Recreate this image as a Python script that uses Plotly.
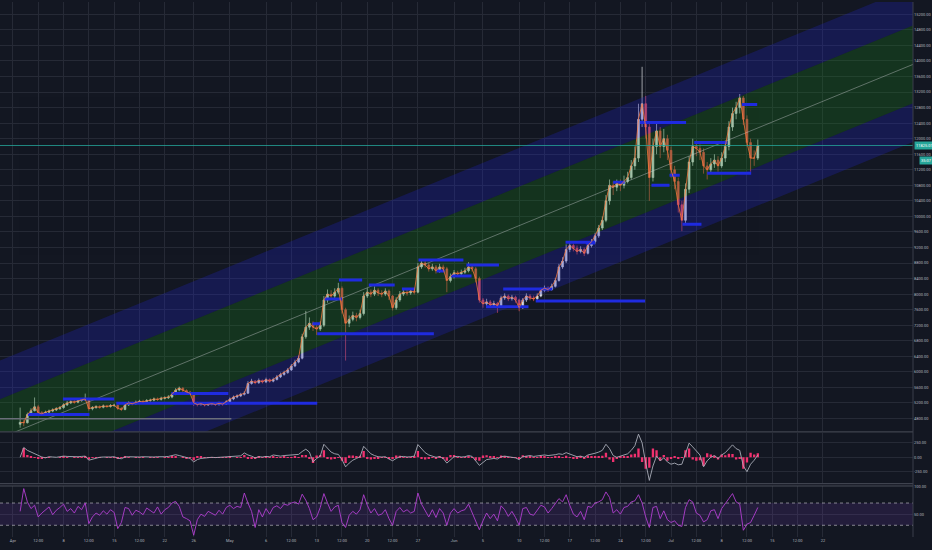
import pandas as pd
import plotly.graph_objects as go
from plotly.subplots import make_subplots

# ---------------- data ----------------
first_open = 4650
close = [4700, 4690, 4900, 5000, 5100, 4950, 4920, 4960, 4990, 5020,
         5050, 5080, 5150, 5200, 5230, 5220, 5260, 5280, 5300, 5050,
         5080, 5100, 5090, 5120, 5110, 5130, 5140, 5060, 5030, 5150,
         5200, 5180, 5220, 5240, 5230, 5260, 5270, 5300, 5290, 5320,
         5330, 5350, 5420, 5530, 5580, 5520, 5480, 5450, 5200, 5160,
         5180, 5150, 5170, 5180, 5160, 5190, 5170, 5230, 5300, 5350,
         5380, 5420, 5450, 5700, 5760, 5720, 5780, 5740, 5800, 5760,
         5800, 5870, 5930, 5980, 6050, 6150, 6250, 6350, 6900, 7150,
         7250, 7150, 7100, 7200, 7850, 8000, 7950, 8050, 8150, 7600,
         7250, 7350, 7450, 7400, 7500, 7950, 8050, 8000, 8100, 8030,
         8000, 8080, 7950, 7650, 7850, 8000, 8050, 8030, 8080, 8050,
         8700, 8800, 8750, 8650, 8700, 8600, 8700, 8650, 8350, 8450,
         8550, 8520, 8560, 8600, 8700, 8650, 8400, 7850, 7750, 7800,
         7720, 7760, 7700, 7900, 7950, 7880, 7920, 7850, 7650, 7850,
         7950, 7900, 7880, 7950, 8100, 8150, 8120, 8200, 8350, 8700,
         8850, 9150, 9250, 9180, 9100, 9150, 9050, 9250, 9350, 9500,
         9700, 9900, 10400, 10800, 10750, 10850, 10800, 10900, 11000, 11300,
         11500, 12500, 12900, 12300, 11000, 11800, 12200, 11800, 12000, 11700,
         11200, 10900, 10300, 9900, 10700, 11400, 11800, 11750, 11650, 11300,
         11200, 11350, 11450, 11300, 11500, 11800, 12300, 12650, 12800, 13050,
         12500, 11900, 11500, 11500, 11825]
high = [5080, 4760, 4950, 5060, 5340, 5150, 4990, 5000, 5030, 5060,
        5090, 5120, 5190, 5250, 5270, 5280, 5300, 5320, 5440, 5320,
        5120, 5140, 5140, 5160, 5150, 5170, 5180, 5160, 5090, 5190,
        5240, 5230, 5260, 5280, 5280, 5300, 5310, 5340, 5340, 5360,
        5370, 5400, 5460, 5580, 5620, 5600, 5550, 5510, 5470, 5230,
        5220, 5210, 5210, 5220, 5210, 5230, 5220, 5270, 5340, 5390,
        5420, 5460, 5500, 5760, 5820, 5790, 5830, 5800, 5850, 5830,
        5850, 5920, 5980, 6030, 6100, 6200, 6310, 6420, 6980, 7570,
        7400, 7300, 7220, 7300, 7950, 8120, 8100, 8150, 8290, 8200,
        7650, 7450, 7550, 7520, 7600, 8050, 8150, 8120, 8200, 8150,
        8100, 8150, 8120, 7980, 7920, 8080, 8120, 8110, 8150, 8130,
        8800, 8900, 8880, 8800, 8780, 8750, 8780, 8760, 8700, 8530,
        8620, 8600, 8630, 8680, 8820, 8770, 8700, 8450, 7900, 7880,
        7850, 7830, 7800, 7960, 8020, 7990, 7980, 7960, 7880, 7900,
        8020, 8000, 7960, 8020, 8160, 8220, 8200, 8270, 8420, 8780,
        8950, 9280, 9330, 9300, 9250, 9230, 9200, 9320, 9420, 9580,
        9780, 10000, 10550, 10950, 10900, 10950, 10950, 11050, 11150, 11450,
        11800, 12900, 13850, 13100, 12400, 12000, 12400, 12300, 12250, 12100,
        11800, 11300, 11000, 10400, 10850, 11550, 12000, 11950, 11850, 11750,
        11400, 11500, 11600, 11550, 11650, 11950, 12450, 12800, 12950, 13150,
        13100, 12600, 12000, 11700, 11980]
low = [4560, 4600, 4670, 4880, 4980, 4900, 4870, 4890, 4930, 4960,
       4990, 5020, 5050, 5120, 5170, 5180, 5190, 5230, 5250, 5000,
       5010, 5050, 5050, 5060, 5070, 5080, 5100, 5020, 4990, 5010,
       5120, 5140, 5150, 5190, 5200, 5200, 5230, 5240, 5250, 5260,
       5290, 5300, 5320, 5400, 5500, 5480, 5440, 5400, 5120, 5110,
       5130, 5110, 5120, 5140, 5120, 5130, 5130, 5150, 5200, 5270,
       5320, 5350, 5390, 5430, 5670, 5680, 5690, 5700, 5710, 5720,
       5730, 5780, 5840, 5900, 5950, 6020, 6120, 6220, 6320, 6850,
       7080, 7050, 6950, 7050, 7150, 7780, 7850, 7900, 8000, 7500,
       6290, 7150, 7300, 7300, 7350, 7450, 7900, 7920, 7950, 7950,
       7920, 7950, 7850, 7580, 7600, 7800, 7950, 7960, 7980, 7990,
       8020, 8650, 8680, 8580, 8600, 8530, 8550, 8580, 8050, 8300,
       8400, 8460, 8480, 8520, 8560, 8580, 8300, 7780, 7650, 7680,
       7650, 7660, 7520, 7660, 7850, 7820, 7830, 7780, 7560, 7620,
       7800, 7840, 7820, 7850, 7920, 8060, 8060, 8090, 8170, 8320,
       8650, 8800, 9080, 9100, 9020, 9050, 8980, 9020, 9200, 9300,
       9450, 9650, 9850, 10300, 10550, 10650, 10650, 10720, 10850, 10950,
       11200, 11400, 12300, 12000, 10400, 10900, 11600, 11500, 11650, 11450,
       11000, 10700, 10100, 9620, 9800, 10600, 11300, 11550, 11450, 11100,
       10950, 11100, 11250, 11150, 11250, 11400, 11700, 12200, 12500, 12650,
       12350, 11800, 11150, 11300, 11450]

# oscillator panel (gray line + pink histogram), same 12h steps
osc_line = [0, 170, 120, 90, 70, 30, 5, -10, 10, 5,
            0, 10, 20, 15, 10, 5, 10, 15, 20, -50,
            -30, -10, 0, 5, 0, 5, 10, -15, -25, 5,
            10, 5, 0, 5, 10, 5, 0, 5, 10, 5,
            10, 15, 30, 45, 30, 10, -10, -20, -80, -40,
            -20, -10, -5, 0, -5, 0, 5, 10, 20, 15,
            20, 25, 75, 40, 20, -10, 10, 5, 15, 10,
            40, 25, 20, 30, 35, 40, 50, 50, 100, 140,
            90, -80, -20, 20, 225, 150, 90, 60, 50, -40,
            -165, -100, -50, -20, 10, 190, 120, 60, 30, 10,
            5, 10, -30, -60, -20, 10, 15, 5, 10, 20,
            220, 150, 80, 40, 20, 0, 10, -20, -100, -40,
            10, 15, 5, 10, 30, 15, -60, -140, -90, -40,
            -30, -20, -30, 10, 20, 5, 0, -10, -40, 10,
            20, 30, 15, 20, 30, 40, 30, 35, 45, 60,
            50, 80, 60, 30, 10, 20, 0, 40, 50, 70,
            90, 120, 225, 150, 30, 0, 20, 40, 60, 120,
            200, 400, 250, -100, -400, -150, 20, -60, -10, -80,
            -120, -100, -130, -120, 50, 245, 180, 100, 40, -165,
            -60, 0, 30, -20, 40, 80, 150, 215, 150, 120,
            -150, -250, -120, -50, 40]
osc_hist = [0, 160, 40, 10, 5, -20, -15, -10, 5, 0,
            0, 5, 10, 5, 0, -5, 5, 5, 10, -40,
            -10, 5, 5, 0, -5, 5, 5, -15, -10, 15,
            5, 0, -5, 5, 5, 0, -5, 5, 5, 0,
            5, 5, 15, 15, 0, -10, -15, -10, -50, 20,
            10, 5, 5, 5, -5, 5, 5, 5, 10, 0,
            5, 5, 40, -15, -15, -20, 15, -5, 10, -5,
            20, -10, -5, 10, 5, 5, 10, 5, 40, 40,
            -20, -100, 30, 40, 120, -30, -40, -20, -5, -60,
            -100, 30, 30, 20, 25, 110, -30, -40, -20, -15,
            -5, 5, -30, -25, 30, 25, 5, -10, 5, 10,
            110, -30, -40, -30, -10, -15, 10, -20, -60, 40,
            40, 5, -5, 5, 15, -10, -50, -60, 30, 35,
            10, 10, -10, 30, 10, -10, -5, -10, -20, 35,
            10, 10, -10, 5, 10, 10, -5, 5, 10, 15,
            -5, 25, -10, -20, -15, 10, -20, 30, 10, 15,
            15, 25, 80, -40, -80, -25, 20, 20, 20, 50,
            60, 150, -80, -200, -180, 150, 120, -60, 40, -60,
            -30, 10, -25, 5, 120, 150, -40, -60, -50, -150,
            70, 50, 25, -40, 50, 35, 60, 55, -40, -20,
            -200, -90, 80, 50, 70]

# RSI panel
rsi = [55, 96, 72, 60, 66, 45, 52, 58, 63, 49,
       57, 62, 68, 55, 60, 52, 64, 58, 70, 33,
       45, 52, 48, 56, 50, 58, 53, 24, 35, 62,
       60, 48, 57, 54, 49, 61, 56, 52, 63, 50,
       58, 62, 70, 73, 64, 45, 42, 38, 12, 40,
       50, 46, 55, 52, 48, 57, 50, 62, 66, 60,
       64, 62, 88, 70, 55, 26, 58, 45, 60, 50,
       62, 65, 60, 68, 66, 70, 72, 68, 86, 75,
       60, 40, 45, 62, 87, 70, 55, 63, 66, 35,
       26, 48, 55, 50, 58, 85, 66, 52, 60, 48,
       50, 58, 42, 30, 55, 62, 54, 58, 52, 55,
       88, 68, 55, 45, 58, 44, 60, 52, 30, 52,
       60, 52, 56, 58, 68, 52, 35, 22, 38, 52,
       42, 50, 38, 65, 58, 46, 55, 44, 30, 60,
       62, 50, 48, 58, 66, 63, 52, 60, 68, 78,
       72, 85, 66, 50, 45, 55, 40, 64, 62, 70,
       72, 76, 90, 80, 52, 58, 50, 62, 64, 72,
       74, 85, 70, 45, 26, 62, 64, 42, 56, 40,
       35, 38, 30, 28, 62, 76, 72, 52, 48, 36,
       40, 56, 58, 42, 60, 70, 78, 87, 72, 68,
       21, 32, 35, 48, 62]

# regression channel (centre line at the two chart edges, sigma in price units)
chan_x = ["2019-03-30 05:12", "2019-08-03 11:00"]
chan_mid = [4293, 13912]
chan_sigma = 1000

# horizontal levels drawn on the chart
lvl_start = ["2019-04-07 22:00", "2019-04-03 02:00", "2019-04-15 07:00", "2019-04-22 22:00",
             "2019-05-16 02:00", "2019-05-20 05:00", "2019-05-24 19:00", "2019-05-14 02:00",
             "2019-05-12 10:00", "2019-05-13 02:00", "2019-05-27 02:00", "2019-06-02 17:00",
             "2019-05-29 14:00", "2019-05-31 14:00", "2019-06-07 19:00", "2019-06-12 07:00",
             "2019-06-05 10:00", "2019-06-16 10:00", "2019-06-26 17:00", "2019-06-28 07:00",
             "2019-06-30 19:00", "2019-07-02 14:00", "2019-07-04 05:00", "2019-07-06 00:00",
             "2019-07-10 19:00", "2019-06-19 05:00", "2019-06-23 00:00"]
lvl_end = ["2019-04-15 00:00", "2019-04-11 14:00", "2019-05-13 02:00", "2019-04-30 19:00",
           "2019-05-19 07:00", "2019-05-23 19:00", "2019-05-26 14:00", "2019-05-16 12:00",
           "2019-05-13 12:00", "2019-05-29 05:00", "2019-06-02 07:00", "2019-06-07 05:00",
           "2019-05-30 17:00", "2019-06-03 10:00", "2019-06-14 14:00", "2019-06-27 10:00",
           "2019-06-11 07:00", "2019-06-20 12:00", "2019-07-03 02:00", "2019-06-30 19:00",
           "2019-07-02 05:00", "2019-07-05 05:00", "2019-07-08 19:00", "2019-07-12 02:00",
           "2019-07-12 22:00", "2019-06-20 12:00", "2019-06-24 14:00"]
lvl_price = [5300, 4900, 5190, 5440, 8364, 8236, 8133, 7877, 7236, 6980, 8877, 8749,
             8595, 8467, 8133, 7826, 7672, 9338, 12415, 10800, 11056, 9800, 11902,
             11108, 12877, 9313, 10877]
gray_level = {"start": "2019-03-30 05:12", "end": "2019-05-01 05:00", "price": 4790}

last_price = 11825.01
last_label = "11825.01"
timer_label = "35:07"
timer_price = 11450
price_ticks = [4800, 5200, 5600, 6000, 6400, 6800, 7200, 7600, 8000, 8400, 8800, 9200,
               9600, 10000, 10400, 10800, 11200, 11600, 12000, 12400, 12800, 13200,
               13600, 14000, 14400, 14800, 15200]
tick_dates = ["2019-04-01", "2019-04-04 12:00", "2019-04-08", "2019-04-11 12:00", "2019-04-15",
              "2019-04-18 12:00", "2019-04-22", "2019-04-26", "2019-05-01", "2019-05-06",
              "2019-05-09 12:00", "2019-05-13", "2019-05-16 12:00", "2019-05-20",
              "2019-05-23 12:00", "2019-05-27", "2019-06-01", "2019-06-05", "2019-06-10",
              "2019-06-13 12:00", "2019-06-17", "2019-06-20 12:00", "2019-06-24",
              "2019-06-27 12:00", "2019-07-01", "2019-07-04 12:00", "2019-07-08",
              "2019-07-11 12:00", "2019-07-15", "2019-07-18 12:00", "2019-07-22"]
tick_text = ["Apr", "12:00", "8", "12:00", "15", "12:00", "22", "26", "May", "6", "12:00",
             "13", "12:00", "20", "12:00", "27", "Jun", "5", "10", "12:00", "17", "12:00",
             "24", "12:00", "Jul", "12:00", "8", "12:00", "15", "12:00", "22"]

# ---------------- figure ----------------
times = pd.date_range("2019-04-02", periods=len(close), freq="12h")
opens = [first_open] + close[:-1]

BG = "#131722"
GRID = "#262a36"
TXT = "#b2b5be"
BLUE_FILL = "rgba(32,38,205,0.27)"
GREEN_FILL = "rgba(25,130,25,0.28)"

fig = make_subplots(rows=3, cols=1, shared_xaxes=True, vertical_spacing=0.004)


def band(k_lo, k_hi, color):
    ys_lo = [m + k_lo * chan_sigma for m in chan_mid]
    ys_hi = [m + k_hi * chan_sigma for m in chan_mid]
    fig.add_trace(go.Scatter(x=[chan_x[0], chan_x[1], chan_x[1], chan_x[0], chan_x[0]],
                             y=[ys_lo[0], ys_lo[1], ys_hi[1], ys_hi[0], ys_lo[0]],
                             fill="toself", fillcolor=color, mode="lines",
                             line=dict(width=0), hoverinfo="skip"), row=1, col=1)


band(1, 2, BLUE_FILL)
band(-2, -1, BLUE_FILL)
band(-1, 1, GREEN_FILL)
fig.add_trace(go.Scatter(x=chan_x, y=chan_mid, mode="lines",
                         line=dict(color="rgba(210,210,215,0.5)", width=0.8),
                         hoverinfo="skip"), row=1, col=1)

# horizontal levels
fig.add_trace(go.Scatter(x=[gray_level["start"], gray_level["end"]],
                         y=[gray_level["price"], gray_level["price"]], mode="lines",
                         line=dict(color="#6b6f7a", width=1.5)), row=1, col=1)
for s, e, p in zip(lvl_start, lvl_end, lvl_price):
    fig.add_trace(go.Scatter(x=[s, e], y=[p, p], mode="lines",
                             line=dict(color="#1f2be0", width=3)), row=1, col=1)

fig.add_trace(go.Candlestick(x=times, open=opens, high=high, low=low, close=close,
                             increasing=dict(line=dict(color="#d9dbe0", width=0.7),
                                             fillcolor="#d9dbe0"),
                             decreasing=dict(line=dict(color="#ef5350", width=0.7),
                                             fillcolor="#ef5350"),
                             whiskerwidth=0), row=1, col=1)
fig.add_trace(go.Scatter(x=times, y=close, mode="lines",
                         line=dict(color="#ff7a3d", width=0.9), opacity=0.85), row=1, col=1)

# current price line
fig.add_trace(go.Scatter(x=chan_x, y=[last_price, last_price], mode="lines",
                         line=dict(color="#26a69a", width=0.8)), row=1, col=1)

# oscillator
fig.add_trace(go.Bar(x=times, y=osc_hist, marker=dict(color="#f0306e", line=dict(width=0))),
              row=2, col=1)
fig.add_trace(go.Scatter(x=times, y=osc_line, mode="lines",
                         line=dict(color="#a9adb8", width=0.9)), row=2, col=1)

# RSI
fig.add_trace(go.Scatter(x=[chan_x[0], chan_x[1], chan_x[1], chan_x[0], chan_x[0]],
                         y=[30, 30, 70, 70, 30], fill="toself",
                         fillcolor="rgba(126,60,190,0.16)", mode="lines",
                         line=dict(width=0), hoverinfo="skip"), row=3, col=1)
for lvl in (70, 30):
    fig.add_trace(go.Scatter(x=chan_x, y=[lvl, lvl], mode="lines",
                             line=dict(color="rgba(220,220,225,0.7)", width=0.8, dash="dot")),
                  row=3, col=1)
fig.add_trace(go.Scatter(x=times, y=rsi, mode="lines",
                         line=dict(color="#b13fd0", width=0.9)), row=3, col=1)

H_PLOT = 537.0
fig.update_layout(
    width=932, height=550,
    margin=dict(l=0, r=19, t=0, b=13),
    paper_bgcolor=BG, plot_bgcolor=BG,
    showlegend=False, bargap=0.35,
    font=dict(family="Roboto, Liberation Sans, sans-serif", size=4, color=TXT),
    yaxis=dict(domain=[1 - 431 / H_PLOT, 1]),
    yaxis2=dict(domain=[1 - 483 / H_PLOT, 1 - 432.5 / H_PLOT]),
    yaxis3=dict(domain=[0, 1 - 486 / H_PLOT]),
)

for i in (1, 2, 3):
    fig.update_xaxes(row=i, col=1, range=chan_x, tickvals=tick_dates, ticktext=tick_text,
                     showgrid=True, gridcolor=GRID, gridwidth=1, zeroline=False,
                     showline=False, rangeslider_visible=False,
                     showticklabels=(i == 3), tickfont=dict(size=4, color=TXT), ticks="")

fig.update_yaxes(row=1, col=1, side="right", range=[4467, 15518], tickvals=price_ticks,
                 tickformat=".2f", showgrid=True, gridcolor=GRID, zeroline=False,
                 tickfont=dict(size=4, color=TXT), ticks="")
fig.update_yaxes(row=2, col=1, side="right", range=[-448, 422], tickvals=[-250, 0, 250],
                 ticktext=["-250.00", "0.00", "250.00"], showgrid=True, gridcolor=GRID,
                 zeroline=False, tickfont=dict(size=4, color=TXT), ticks="")
fig.update_yaxes(row=3, col=1, side="right", range=[8.9, 100.3], tickvals=[50, 100],
                 ticktext=["50.00", "100.00"], showgrid=True, gridcolor=GRID,
                 zeroline=False, tickfont=dict(size=4, color=TXT), ticks="")

# pane separators and price axis border
for yp in (431.5, 483.5, 485.8):
    fig.add_shape(type="line", xref="paper", yref="paper", x0=0, x1=1,
                  y0=1 - yp / H_PLOT, y1=1 - yp / H_PLOT,
                  line=dict(color="#4a4e5a", width=1))
fig.add_shape(type="line", xref="paper", yref="paper", x0=1, x1=1, y0=0, y1=1,
              line=dict(color="#3a3e4a", width=1))

fig.add_annotation(x=1, xref="paper", y=last_price, yref="y", xanchor="left",
                   text=last_label, showarrow=False, bgcolor="#26a69a",
                   font=dict(size=4, color="#ffffff"), borderpad=1, xshift=1)
fig.add_annotation(x=1, xref="paper", y=timer_price, yref="y", xanchor="left",
                   text=timer_label, showarrow=False, bgcolor="#26a69a",
                   font=dict(size=4, color="#ffffff"), borderpad=1, xshift=6)

fig.write_html("out.html", config={"displayModeBar": False},
               post_script="document.body.style.margin='0';document.body.style.overflow='hidden';")
